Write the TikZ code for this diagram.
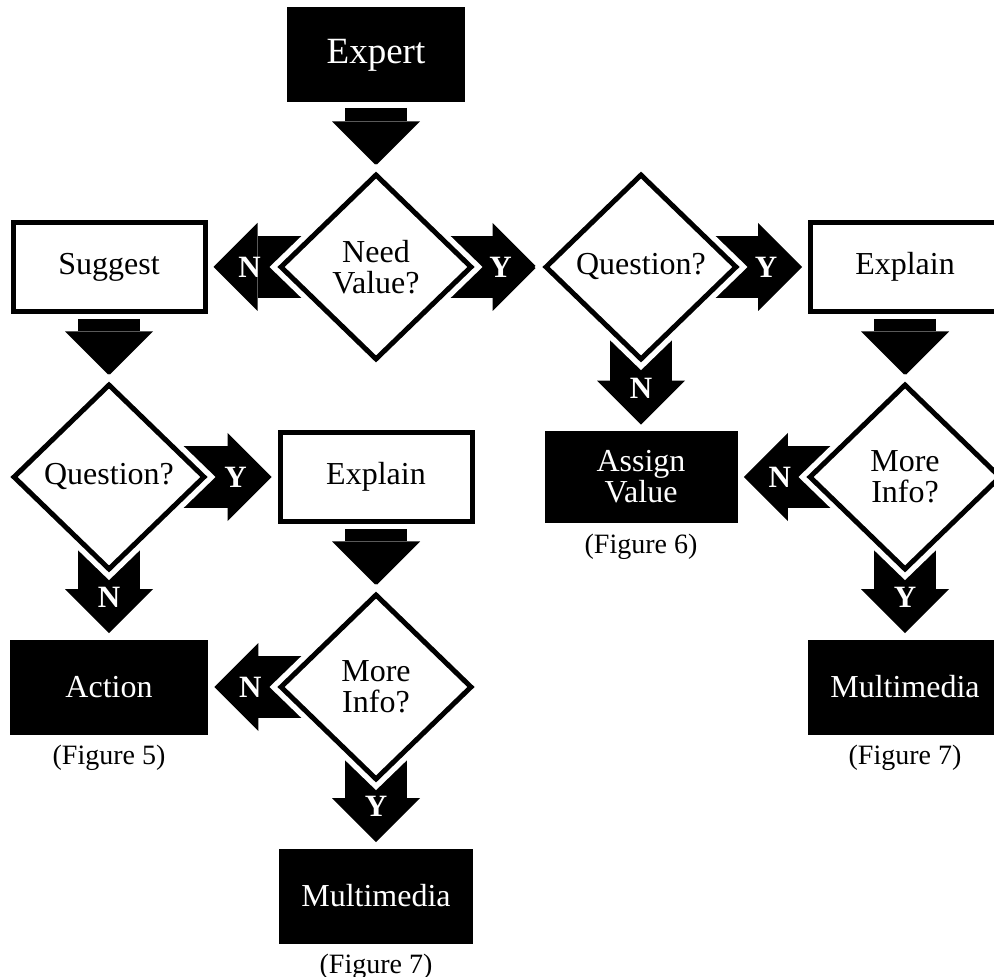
\documentclass[tikz,border=0pt]{standalone}
\usepackage{fontspec}
\setmainfont{Liberation Serif}
\usetikzlibrary{arrows.meta,shapes.geometric,positioning,calc}
\pgfdeclarelayer{bg}
\pgfsetlayers{bg,main}

\tikzset{
    boxfont/.style={font=\fontsize{16}{15.5}\selectfont},
    darkbox/.style={boxfont, fill=black, text=white, minimum width=99pt,
        minimum height=47.5pt, inner sep=0pt, align=center},
    whitebox/.style={boxfont, draw, line width=2.5pt, fill=white,
        minimum width=96pt, minimum height=44.5pt, inner sep=0pt},
    decision/.style={boxfont, diamond, preaction={draw=white, line width=8pt},
        draw, line width=2.5pt, fill=white, minimum width=96pt,
        minimum height=93pt, inner sep=0pt, align=center},
    blockarrow/.style={line width=31pt,
        -{Triangle[length=22pt, width=44pt, line width=0pt]}, shorten >=3pt},
    arrowlab/.style={text=white, font=\fontsize{15.5}{15.5}\selectfont\bfseries,
        inner sep=0pt},
    figlabel/.style={font=\fontsize{14}{14}\selectfont, inner sep=0pt}
}

\begin{document}
\begin{tikzpicture}[x=0.5pt, y=-0.5pt]
    \useasboundingbox (0,0) rectangle (994,977);

    % top of the chart
    \node[darkbox, minimum width=89pt, font=\fontsize{18.5}{18.5}\selectfont] (expert) at (376,55) {Expert};
    \node[decision] (needval) at (376,267) {Need\\Value?};
    \node[whitebox] (suggest) at (109,267) {Suggest};

    % left branch
    \node[decision] (quest1) at (109,477) {Question?};
    \node[whitebox] (explain1) at (376,477) {Explain};
    \node[darkbox] (action) at (109,687) {Action};
    \node[figlabel, below=5pt of action] (fig5) {(Figure 5)};
    \node[decision] (more1) at (376,687) {More\\Info?};
    \node[darkbox, minimum width=97pt] (multi1) at (376,896) {Multimedia};
    \node[figlabel, below=5pt of multi1] (fig7a) {(Figure 7)};

    % right branch
    \node[decision] (quest2) at (641,267) {Question?};
    \node[whitebox, minimum width=94.5pt] (explain2) at (905,267) {Explain};
    \node[darkbox, minimum width=96.5pt, minimum height=46pt,
        font=\fontsize{16}{14}\selectfont] (assign) at (641,477) {Assign\\Value};
    \node[figlabel, below=5pt of assign] (fig6) {(Figure 6)};
    \node[decision] (more2) at (905,477) {More\\Info?};
    \node[darkbox, minimum width=97pt] (multi2) at (905,687) {Multimedia};
    \node[figlabel, below=5pt of multi2] (fig7b) {(Figure 7)};

    % plain arrows out of boxes
    \begin{pgfonlayer}{bg}
    \foreach \a/\b in {expert/needval, suggest/quest1, explain1/more1, explain2/more2}
        \draw[blockarrow, shorten <=2.5pt] (\a) -- (\b);
    \end{pgfonlayer}

    % Y/N arrows out of the diamonds
    \foreach \a/\b/\lab in {needval/suggest/N, needval/quest2/Y,
        quest1/explain1/Y, quest1/action/N, more1/action/N, more1/multi1/Y,
        quest2/explain2/Y, quest2/assign/N, more2/assign/N, more2/multi2/Y} {
        \begin{pgfonlayer}{bg}
        \draw[blockarrow] (\a.center) -- coordinate[pos=1] (tip) (\b);
        \end{pgfonlayer}
        \node[arrowlab] at ($(tip)!21pt!(\a)$) {\lab};
    }
\end{tikzpicture}
\end{document}
